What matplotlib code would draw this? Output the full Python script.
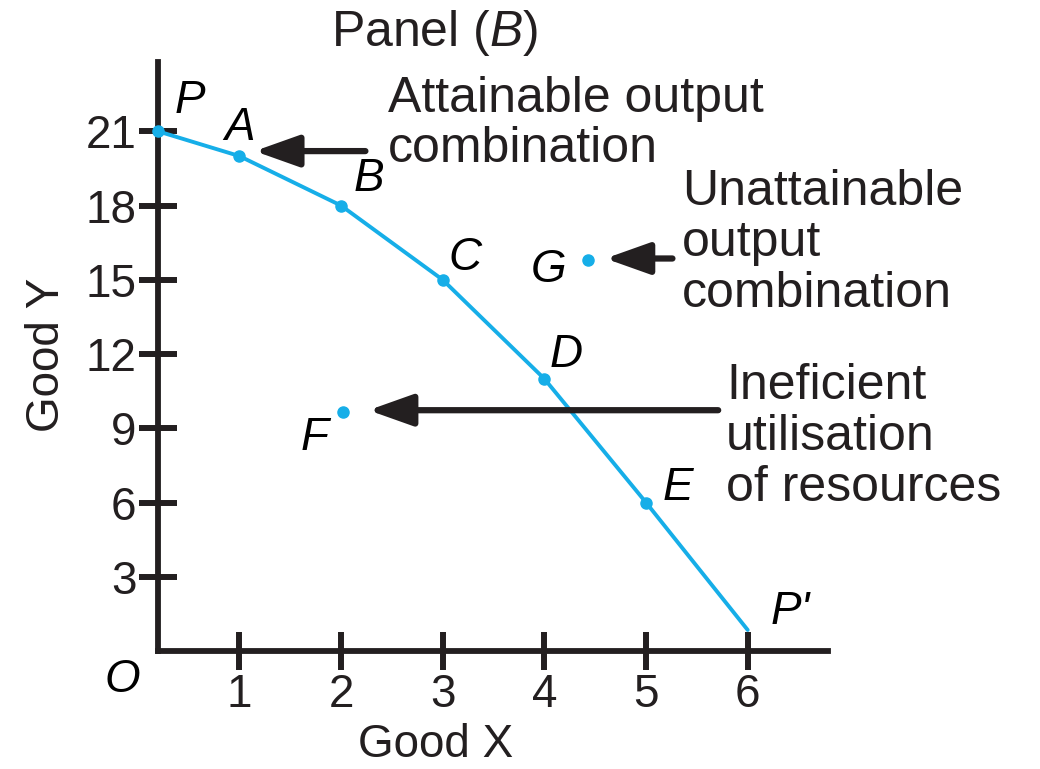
import matplotlib
matplotlib.use('Agg')
import matplotlib.pyplot as plt

plt.rcParams['font.family'] = ['Liberation Sans', 'DejaVu Sans']
plt.rcParams['mathtext.fontset'] = 'custom'
plt.rcParams['mathtext.rm'] = 'Liberation Sans'
plt.rcParams['mathtext.it'] = 'Liberation Sans:italic'

# production possibility points
ppf_names = ['P', 'A', 'B', 'C', 'D', 'E', "P'"]
ppf_x = [0.2, 1, 2, 3, 4, 5, 6]
ppf_y = [21, 20, 18, 15, 11, 6, 0.85]
dot_names = ['P', 'A', 'B', 'C', 'D', 'E']

other_names = ['F', 'G']
other_x = [2.02, 4.43]
other_y = [9.65, 15.8]

x_ticks = [1, 2, 3, 4, 5, 6]
y_ticks = [3, 6, 9, 12, 15, 18, 21]

blue = '#16aee8'
ink = '#231f20'
fs = 33
fs_note = 36

fig = plt.figure(figsize=(10.4, 7.69), dpi=100)
ax = fig.add_axes([158/1040, 1 - 651/769, (828-158)/1040, (651-62)/769])
ax.set_xlim(0.2, 6.79)
ax.set_ylim(0, 23.8)

ax.plot(ppf_x, ppf_y, color=blue, lw=2.8, solid_capstyle='round', clip_on=False, zorder=3)
dx = [ppf_x[ppf_names.index(n)] for n in dot_names]
dy = [ppf_y[ppf_names.index(n)] for n in dot_names]
ax.plot(dx, dy, 'o', color=blue, ms=8, clip_on=False, zorder=4)
ax.plot(other_x, other_y, 'o', color=blue, ms=8, zorder=4)

# point labels (offset from each point)
lab_off = {'P': (0.31, 1.24), 'A': (0.0, 1.15), 'B': (0.27, 1.09), 'C': (0.22, 0.86),
           'D': (0.21, 0.95), 'E': (0.31, 0.58), "P'": (0.42, 0.72)}
for n, x, y in zip(ppf_names, ppf_x, ppf_y):
    ox, oy = lab_off[n]
    ax.text(x + ox, y + oy, n, fontsize=fs, style='italic', ha='center', va='center')
other_off = [(-0.28, -1.05), (-0.39, -0.42)]
for n, x, y, (ox, oy) in zip(other_names, other_x, other_y, other_off):
    ax.text(x + ox, y + oy, n, fontsize=fs, style='italic', ha='center', va='center')
ax.text(-0.15, -1.17, 'O', fontsize=fs, style='italic', ha='center', va='center', clip_on=False)

# arrows
arr = dict(arrowstyle='-|>,head_length=0.9,head_width=0.32', color=ink, lw=4.5,
           mutation_scale=30, shrinkA=0, shrinkB=0)
ax.annotate('', xy=(1.15, 20.2), xytext=(2.24, 20.2), arrowprops=arr)
ax.annotate('', xy=(4.6, 15.86), xytext=(5.26, 15.86), arrowprops=arr)
ax.annotate('', xy=(2.27, 9.73), xytext=(5.71, 9.73), arrowprops=arr)

fig.text(388/1040, 1 - 124/769, 'Attainable output\ncombination', fontsize=fs_note,
         ha='left', va='center', linespacing=1.12, color=ink)
fig.text(682/1040, 1 - 243/769, 'Unattainable\noutput\ncombination', fontsize=fs_note,
         ha='left', va='center', linespacing=1.15, color=ink)
fig.text(726/1040, 1 - 437/769, 'Ineficient\nutilisation\nof resources', fontsize=fs_note,
         ha='left', va='center', linespacing=1.15, color=ink)
fig.text(435/1040, 1 - 33/769, r'Panel ($\it{B}$)', fontsize=fs_note, ha='center', va='center', color=ink)

ax.set_xlabel('Good X', fontsize=fs, color=ink, va='center')
ax.xaxis.set_label_coords((436-158)/(828-158), -(745-651)/(651-62))
ax.set_ylabel('Good Y', fontsize=fs, color=ink, va='center')
ax.yaxis.set_label_coords(-(158-47)/(828-158), (651-355)/(651-62))

for s in ['top', 'right']:
    ax.spines[s].set_visible(False)
for s in ['left', 'bottom']:
    ax.spines[s].set_linewidth(4.2)
    ax.spines[s].set_color(ink)

ax.set_xticks(x_ticks)
ax.set_yticks(y_ticks)
ax.tick_params(direction='inout', length=27, width=4.3, color=ink, labelcolor=ink,
               labelsize=fs, pad=2)

fig.savefig('out.png', dpi=100)
